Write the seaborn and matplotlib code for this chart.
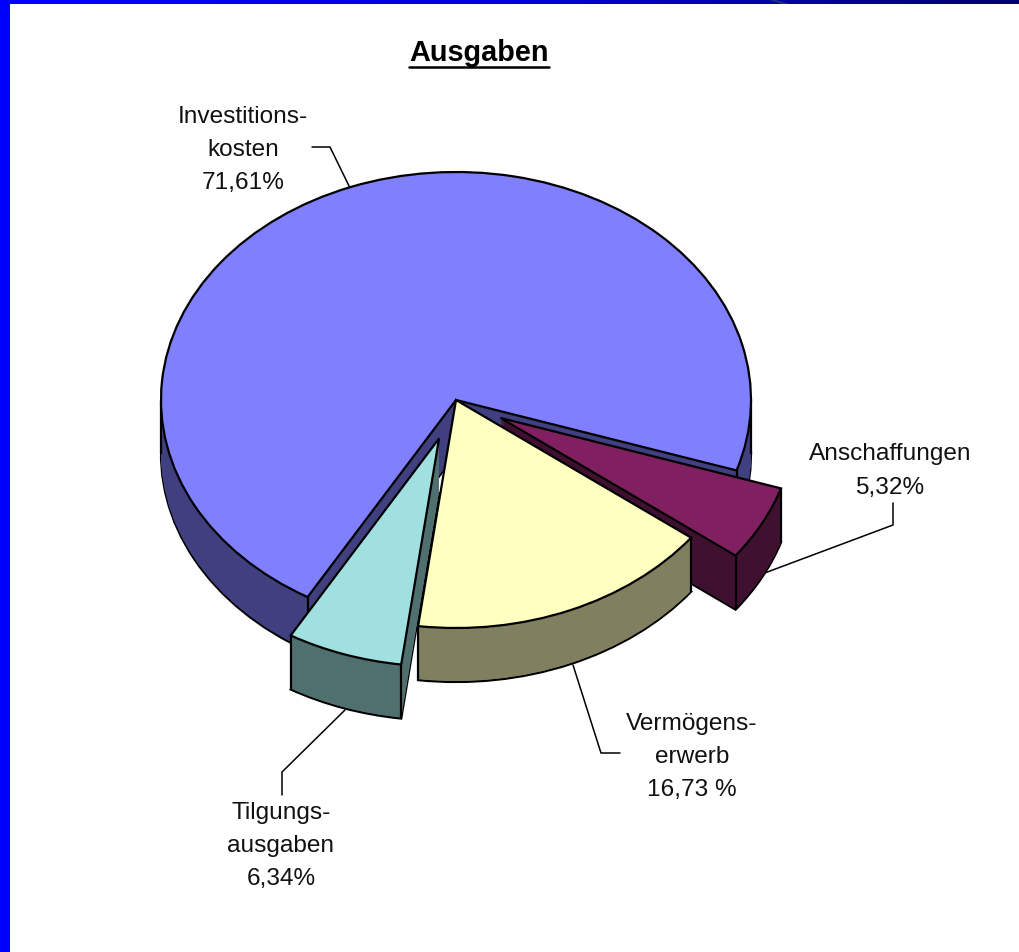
"""Ausgaben - exploded pie with a fake 3D wall, built from stacked seaborn/matplotlib pies"""

import numpy as np
import matplotlib
matplotlib.use("Agg")
import matplotlib.pyplot as plt
from matplotlib.colors import ListedColormap
import seaborn as sns

categories = ["Investitionskosten", "Tilgungsausgaben", "Vermögenserwerb", "Anschaffungen"]
shares = [71.61, 6.34, 16.73, 5.32]
explode = [0, 0.178, 0, 0.17]
labels = ["Investitions-\nkosten\n71,61%", "Tilgungs-\nausgaben\n6,34%",
          "Vermögens-\nerwerb\n16,73 %", "Anschaffungen\n5,32%"]
top_colors = ["#8080FF", "#A0E0E0", "#FFFFC0", "#802060"]
wall_colors = ["#404080", "#507070", "#808060", "#401030"]
# back to front
draw_rank = [0, 3, 2, 1]

sns.set_theme(style="white")
plt.rcParams['font.family'] = ['Liberation Sans', 'DejaVu Sans']

W, H = 1020, 952
CX, CY = 456, 400   # pie centre in pixels
RX, RY = 295, 228   # ellipse radii in pixels
DEPTH = 54
EDGE = 1.6


def X(px):
    return (px - CX) / RX


def Y(py):
    return (CY - py) / RY


fig = plt.figure(figsize=(W / 100, H / 100), dpi=100, facecolor="white")
ax = fig.add_axes([0, 0, 1, 1])

# wall layers, bottom first, then the top face
for d in range(DEPTH, -1, -1):
    is_top = d == 0
    is_bottom = d == DEPTH
    wedges, _ = ax.pie(shares, explode=explode, startangle=-18, radius=1,
                       center=(0, -d / RY),
                       colors=top_colors if is_top else wall_colors,
                       wedgeprops={"linewidth": EDGE if is_top or is_bottom else 0,
                                   "edgecolor": "black" if is_top or is_bottom else "none",
                                   "joinstyle": "miter"})
    for i, w in enumerate(wedges):
        w.set_zorder(draw_rank[i] * 100 + 2 + (DEPTH - d))

# vertical corners of each slice
top_wedges = wedges
for i, w in enumerate(top_wedges):
    cx, cy = w.center
    angles = [w.theta1, w.theta2]
    if i == 0:
        angles += [180, 360]
    for a in angles:
        x0 = cx + w.r * np.cos(np.radians(a))
        y0 = cy + w.r * np.sin(np.radians(a))
        ax.plot([x0, x0], [y0, y0 - DEPTH / RY], color="black", lw=EDGE,
                zorder=draw_rank[i] * 100 + 1 + DEPTH, solid_capstyle="butt")

ax.set_aspect("auto")
ax.set_xlim(X(0), X(W))
ax.set_ylim(Y(H), Y(0))
ax.axis("off")

# leader lines
leaders = [([312, 330, 350], [147, 147, 188]),
           ([282, 282, 345], [795, 772, 710]),
           ([620, 601, 573], [753, 753, 665]),
           ([893, 893, 762], [503, 525, 574])]
for lx, ly in leaders:
    ax.plot([X(v) for v in lx], [Y(v) for v in ly], color="black", lw=1.1, zorder=1)

# slice labels
label_pos = [(243, 150), (281, 846), (692, 757), (890, 471)]
for text, (px, py) in zip(labels, label_pos):
    ax.text(X(px), Y(py), text, ha="center", va="center", fontsize=17.6,
            color="#111111", linespacing=1.65, zorder=900)

# title with underline
ax.text(X(479), Y(53), "Ausgaben", ha="center", va="center", fontsize=20.8,
        fontweight="bold", color="black", zorder=900)
ax.plot([X(409), X(549)], [Y(67), Y(67)], color="black", lw=1.8, zorder=900)

# slide frame: blue band on the left, gradient along the top
ax.axvspan(X(0), X(10), color="#0000FF", lw=0, zorder=950)
band = fig.add_axes([0, 1 - 4 / H, 1, 4 / H])
cmap = ListedColormap(sns.blend_palette(["#0000FF", "#0000E0", "#000070"], 256))
band.imshow(np.linspace(0, 1, 256).reshape(1, -1), cmap=cmap, aspect="auto")
band.axis("off")
band.fill([770 / W * 255, 777 / W * 255, 790 / W * 255, 783 / W * 255], [-0.5, -0.5, 0.5, 0.5],
          color="#203080", lw=0)

fig.savefig("out.png", dpi=100, facecolor="white")
